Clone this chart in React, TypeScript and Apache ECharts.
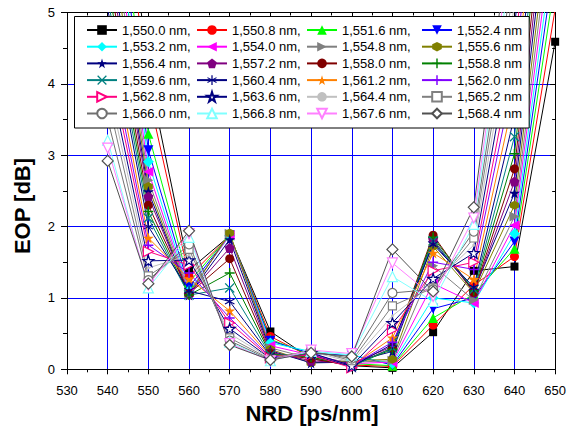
import React, { useEffect, useRef } from "react";
import * as echarts from "echarts";

// NRD positions (ps/nm)
const nrd = [540, 550, 560, 570, 580, 590, 600, 610, 620, 630, 640, 650];

// Wavelength labels (legend order)
const wavelengths = [
  "1,550.0 nm", "1,550.8 nm", "1,551.6 nm", "1,552.4 nm",
  "1,553.2 nm", "1,554.0 nm", "1,554.8 nm", "1,555.6 nm",
  "1,556.4 nm", "1,557.2 nm", "1,558.0 nm", "1,558.8 nm",
  "1,559.6 nm", "1,560.4 nm", "1,561.2 nm", "1,562.0 nm",
  "1,562.8 nm", "1,563.6 nm", "1,564.4 nm", "1,565.2 nm",
  "1,566.0 nm", "1,566.8 nm", "1,567.6 nm", "1,568.4 nm",
];

// EOP [dB] for each wavelength, at the NRD positions above
const eop1550_0 = [9.0, 4.15, 1.39, 1.87, 0.53, 0.15, 0.05, 0.02, 0.52, 1.38, 1.44, 4.59];
const eop1550_8 = [8.5, 3.86, 1.30, 1.87, 0.46, 0.17, 0.06, 0.04, 0.62, 1.18, 1.58, 5.05];
const eop1551_6 = [8.0, 3.30, 1.22, 1.88, 0.42, 0.20, 0.08, 0.05, 0.72, 1.05, 1.69, 5.45];
const eop1552_4 = [7.6, 3.07, 1.15, 1.88, 0.40, 0.22, 0.20, 0.06, 0.85, 1.00, 1.79, 5.8];
const eop1553_2 = [7.2, 2.91, 1.10, 1.87, 0.37, 0.25, 0.20, 0.08, 1.00, 0.93, 1.90, 6.1];
const eop1554_0 = [6.9, 2.77, 1.08, 1.88, 0.33, 0.20, 0.08, 0.10, 1.20, 0.93, 2.02, 6.4];
const eop1554_8 = [6.6, 2.65, 1.07, 1.90, 0.30, 0.15, 0.10, 0.12, 1.45, 0.97, 2.14, 6.7];
const eop1555_6 = [6.3, 2.56, 1.05, 1.91, 0.28, 0.09, 0.12, 0.14, 1.72, 1.07, 2.30, 7.0];
const eop1556_4 = [6.0, 2.49, 1.04, 1.82, 0.26, 0.09, 0.10, 0.25, 1.78, 1.10, 2.47, 7.3];
const eop1557_2 = [5.8, 2.42, 1.05, 1.70, 0.24, 0.12, 0.08, 0.32, 1.82, 1.08, 2.63, 7.6];
const eop1558_0 = [5.6, 2.30, 1.06, 1.55, 0.22, 0.15, 0.05, 0.30, 1.88, 1.08, 2.81, 7.9];
const eop1558_8 = [5.4, 2.21, 1.04, 1.35, 0.21, 0.17, 0.05, 0.28, 1.85, 1.10, 3.02, 8.2];
const eop1559_6 = [5.2, 2.12, 1.04, 1.14, 0.20, 0.20, 0.04, 0.30, 1.80, 1.12, 3.26, 8.5];
const eop1560_4 = [5.05, 2.00, 1.10, 0.95, 0.19, 0.20, 0.04, 0.35, 1.75, 1.15, 3.55, 8.8];
const eop1561_2 = [4.8, 1.84, 1.27, 0.82, 0.18, 0.22, 0.05, 0.44, 1.63, 1.26, 3.85, 9.1];
const eop1562_0 = [4.6, 1.74, 1.35, 0.72, 0.17, 0.22, 0.05, 0.38, 1.50, 1.40, 4.15, 9.4];
const eop1562_8 = [4.4, 1.65, 1.46, 0.65, 0.16, 0.20, 0.02, 0.55, 1.38, 1.50, 4.45, 9.7];
const eop1563_6 = [4.2, 1.52, 1.53, 0.57, 0.15, 0.23, 0.05, 0.65, 1.27, 1.63, 4.8, 10.0];
const eop1564_4 = [4.0, 1.42, 1.60, 0.50, 0.15, 0.25, 0.10, 0.75, 1.20, 1.74, 5.1, 10.3];
const eop1565_2 = [3.8, 1.31, 1.68, 0.44, 0.14, 0.27, 0.12, 0.89, 1.14, 1.84, 5.4, 10.6];
const eop1566_0 = [3.5, 1.25, 1.75, 0.40, 0.13, 0.25, 0.15, 1.07, 1.12, 1.93, 5.7, 10.9];
const eop1566_8 = [3.21, 1.14, 1.85, 0.38, 0.12, 0.25, 0.20, 1.30, 0.95, 2.03, 6.0, 11.2];
const eop1567_6 = [3.10, 1.18, 1.90, 0.36, 0.12, 0.27, 0.22, 1.49, 1.02, 2.12, 6.3, 11.5];
const eop1568_4 = [2.92, 1.20, 1.94, 0.34, 0.13, 0.23, 0.18, 1.68, 1.09, 2.27, 6.6, 11.8];

const eopSeries = [
  eop1550_0, eop1550_8, eop1551_6, eop1552_4,
  eop1553_2, eop1554_0, eop1554_8, eop1555_6,
  eop1556_4, eop1557_2, eop1558_0, eop1558_8,
  eop1559_6, eop1560_4, eop1561_2, eop1562_0,
  eop1562_8, eop1563_6, eop1564_4, eop1565_2,
  eop1566_0, eop1566_8, eop1567_6, eop1568_4,
];

const STAR = "path://M0,-10L2.245,-3.09L9.51,-3.09L3.633,1.18L5.88,8.09L0,3.82L-5.88,8.09L-3.633,1.18L-9.51,-3.09L-2.245,-3.09Z";
const PENT = "path://M0,-10L9.51,-3.09L5.88,8.09L-5.88,8.09L-9.51,-3.09Z";
const HEX = "path://M0,-10L8.66,-5L8.66,5L0,10L-8.66,5L-8.66,-5Z";
const PLUS = "path://M-10,-1.5L10,-1.5L10,1.5L-10,1.5Z M-1.5,-10L1.5,-10L1.5,10L-1.5,10Z";
const CROSS = "path://M-7.78,-6.36L-6.36,-7.78L7.78,6.36L6.36,7.78Z M-7.78,6.36L6.36,-7.78L7.78,-6.36L-6.36,7.78Z";
const ASTER = "path://M-1.2,-10L1.2,-10L1.2,10L-1.2,10Z M-8.16,-5.87L9.16,4.13L8.16,5.87L-9.16,-4.13Z M-9.16,4.13L8.16,-5.87L9.16,-4.13L-8.16,5.87Z";

const styles: any[] = [
  { color: "#000000", symbol: "rect", size: 8 },
  { color: "#ff0000", symbol: "circle", size: 9 },
  { color: "#00ff00", symbol: "triangle", size: 10 },
  { color: "#0000ff", symbol: "triangle", size: 10, rotate: 180 },
  { color: "#00ffff", symbol: "diamond", size: 11 },
  { color: "#ff00ff", symbol: "triangle", size: 10, rotate: 90 },
  { color: "#808080", symbol: "triangle", size: 10, rotate: -90 },
  { color: "#808000", symbol: HEX, size: 9 },
  { color: "#000080", symbol: STAR, size: 11 },
  { color: "#800080", symbol: PENT, size: 10 },
  { color: "#800000", symbol: "circle", size: 9 },
  { color: "#008000", symbol: PLUS, size: 10 },
  { color: "#008080", symbol: CROSS, size: 10 },
  { color: "#000080", symbol: ASTER, size: 10 },
  { color: "#ff8000", symbol: STAR, size: 11 },
  { color: "#8000ff", symbol: PLUS, size: 10 },
  { color: "#ff0080", symbol: "triangle", size: 10, rotate: -90, open: true },
  { color: "#000080", symbol: STAR, size: 11, open: true },
  { color: "#c0c0c0", symbol: "circle", size: 3 },
  { color: "#808080", symbol: "rect", size: 8, open: true },
  { color: "#707070", symbol: "circle", size: 9, open: true },
  { color: "#80ffff", symbol: "triangle", size: 10, open: true },
  { color: "#ff80ff", symbol: "triangle", size: 10, rotate: 180, open: true },
  { color: "#505050", symbol: "diamond", size: 11, open: true },
];

const FONT = "'Liberation Sans', Arial, sans-serif";

const legendName = (i: number) => wavelengths[i] + (i % 4 === 3 ? "" : ",");

export default function App() {
  const ref = useRef<HTMLDivElement>(null);
  useEffect(() => {
    if (!ref.current) return;
    const chart = echarts.init(ref.current, undefined, { renderer: "svg" });

    const series = eopSeries.map((vals, i) => {
      const st = styles[i];
      return {
        type: "line",
        name: legendName(i),
        data: nrd.map((x, k) => [x, vals[k]]),
        symbol: st.symbol,
        symbolSize: st.size,
        symbolRotate: st.rotate || 0,
        showAllSymbol: true,
        clip: true,
        color: st.color,
        lineStyle: { color: st.color, width: 1 },
        itemStyle: st.open
          ? { color: "#ffffff", borderColor: st.color, borderWidth: 1.2 }
          : { color: st.color, borderWidth: 0 },
        emphasis: { disabled: true },
      };
    });

    const colLeft = [86, 196, 306, 421];
    const legends = [0, 1, 2, 3].map((c) => {
      const base: any = {
        orient: "vertical",
        left: colLeft[c],
        top: 23,
        padding: 0,
        itemWidth: 30,
        itemHeight: 12,
        itemGap: 2.7,
        selectedMode: false,
        z: 6,
        textStyle: { fontSize: 13, color: "#000", fontFamily: FONT, lineHeight: 14 },
        data: wavelengths.map((_, i) => i).filter((i) => i % 4 === c).map((i) => legendName(i)),
      };
      if (c === 0) {
        // first column carries the white framed box of the whole legend
        base.left = 74.5;
        base.top = 16.5;
        base.padding = [6.5, 338.5, 7.5, 11.5];
        base.backgroundColor = "#ffffff";
        base.borderColor = "#000000";
        base.borderWidth = 1;
        base.z = 5;
      }
      return base;
    });

    const option: any = {
      animation: false,
      backgroundColor: "#ffffff",
      grid: { left: 67, right: 12, top: 12.5, bottom: 61.7, containLabel: false },
      legend: legends,
      xAxis: [
        {
          type: "value",
          position: "bottom",
          min: 530,
          max: 650,
          interval: 10,
          axisLine: { show: true, onZero: false, lineStyle: { color: "#000", width: 1 } },
          axisTick: { show: true, inside: false, length: 5, lineStyle: { color: "#000" } },
          minorTick: { show: true, splitNumber: 2, length: 3, lineStyle: { color: "#000" } },
          splitLine: { show: true, lineStyle: { color: "#0000ff", width: 1 } },
          axisLabel: { fontSize: 13, color: "#000", fontFamily: FONT, margin: 15 },
        },
        {
          type: "value",
          position: "top",
          min: 530,
          max: 650,
          interval: 10,
          axisLine: { show: true, onZero: false, lineStyle: { color: "#000", width: 1 } },
          axisTick: { show: true, inside: true, length: 5, lineStyle: { color: "#000" } },
          minorTick: { show: true, splitNumber: 2, length: 3, lineStyle: { color: "#000" } },
          splitLine: { show: false },
          axisLabel: { show: false },
        },
      ],
      yAxis: [
        {
          type: "value",
          position: "left",
          min: 0,
          max: 5,
          interval: 1,
          axisLine: { show: true, onZero: false, lineStyle: { color: "#000", width: 1 } },
          axisTick: { show: true, inside: false, length: 6, lineStyle: { color: "#000" } },
          minorTick: { show: true, splitNumber: 2, length: 4, lineStyle: { color: "#000" } },
          splitLine: { show: true, lineStyle: { color: "#0000ff", width: 1 } },
          axisLabel: { fontSize: 13, color: "#000", fontFamily: FONT, margin: 12 },
        },
        {
          type: "value",
          position: "right",
          min: 0,
          max: 5,
          interval: 1,
          axisLine: { show: true, onZero: false, lineStyle: { color: "#000", width: 1 } },
          axisTick: { show: true, inside: true, length: 5, lineStyle: { color: "#000" } },
          minorTick: { show: true, splitNumber: 2, length: 3, lineStyle: { color: "#000" } },
          splitLine: { show: false },
          axisLabel: { show: false },
        },
      ],
      graphic: [
        {
          type: "text",
          x: 22,
          y: 206,
          rotation: Math.PI / 2,
          style: {
            text: "EOP [dB]",
            font: "bold 22px " + FONT,
            fill: "#000",
            textAlign: "center",
            textVerticalAlign: "middle",
          },
        },
        {
          type: "text",
          x: 312,
          y: 413,
          style: {
            text: "NRD [ps/nm]",
            font: "bold 22px " + FONT,
            fill: "#000",
            textAlign: "center",
            textVerticalAlign: "middle",
          },
        },
      ],
      series,
    };
    chart.setOption(option);
    return () => chart.dispose();
  }, []);

  return (
    <div
      ref={ref}
      style={{ position: "absolute", left: 0, top: 0, width: 569, height: 431, background: "#fff" }}
    />
  );
}
